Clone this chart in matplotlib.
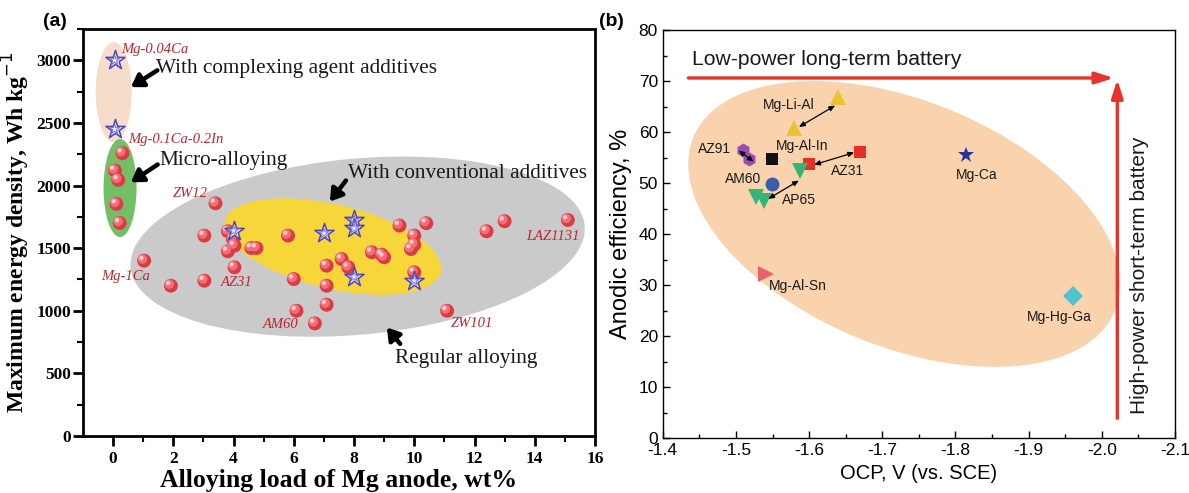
import matplotlib
matplotlib.use("Agg")
import matplotlib.pyplot as plt
from matplotlib.patches import Ellipse
from matplotlib.transforms import ScaledTranslation

plt.rcParams["axes.unicode_minus"] = False

# ---------------- (a) energy density vs alloying load ----------------
sphere_load = [0.31, 0.06, 0.17, 0.11, 0.22, 3.4, 1.03, 1.92, 3.03, 3.03, 3.81, 3.98,
               4.03, 3.81, 4.03, 4.59, 4.76, 5.81, 6.0, 6.09, 6.7, 7.09, 7.09, 7.09,
               7.59, 7.81, 9.51, 10.4, 10.0, 10.0, 9.89, 8.59, 8.92, 9.0, 10.0, 12.4,
               13.0, 15.1, 11.09]
sphere_energy = [2258, 2120, 2045, 1853, 1701, 1858, 1400, 1200, 1240, 1600, 1635, 1573,
                 1520, 1475, 1347, 1501, 1501, 1600, 1253, 1000, 899, 1360, 1200, 1048,
                 1413, 1347, 1680, 1699, 1600, 1528, 1493, 1467, 1448, 1427, 1307, 1635,
                 1715, 1725, 1000]
star_load = [0.05, 0.05, 4.0, 7.0, 8.0, 8.0, 8.0, 10.0]
star_energy = [3000, 2450, 1640, 1618, 1725, 1658, 1272, 1240]

alloy_names = ["Mg-0.04Ca", "Mg-0.1Ca-0.2In", "ZW12", "Mg-1Ca", "AZ31", "AM60", "LAZ1131", "ZW101"]
alloy_name_x = [0.26, 0.51, 1.97, -0.41, 3.59, 4.97, 13.7, 11.22]
alloy_name_y = [3088, 2366, 1936, 1272, 1226, 888, 1592, 898]

group_names = ["With complexing agent additives", "Micro-alloying",
               "With conventional additives", "Regular alloying"]

# ---------------- (b) anodic efficiency vs OCP ----------------
ocp_names = ["Mg-Li-Al", "AZ91", "Mg-Al-In", "AZ31", "AM60", "AP65", "Mg-Al-Sn", "Mg-Ca", "Mg-Hg-Ga"]
ocp_values = [[-1.639, -1.579], [-1.509, -1.518], [-1.549], [-1.670, -1.600], [-1.549],
              [-1.588, -1.527, -1.538], [-1.541], [-1.815], [-1.960]]
eff_values = [[66.9, 60.8], [56.5, 54.8], [54.8], [56.1, 53.8], [49.9],
              [52.3, 47.3, 46.4], [32.2], [55.5], [27.9]]
ocp_label_x = [-1.5367, -1.4488, -1.555, -1.6297, -1.4845, -1.5632, -1.545, -1.80, -1.8975]
ocp_label_y = [65.3, 56.7, 57.2, 52.3, 50.8, 46.6, 29.9, 51.5, 23.8]

marker_styles = ["^", "h", "s", "s", "o", "v", ">", "*", "D"]
marker_colors = ["#EBC232", "#9B4DB5", "#111111", "#E63027", "#3A5DAA", "#36B676",
                 "#E9636C", "#2A2F9A", "#4FC4D1"]
marker_sizes = [12, 10, 8, 9, 10, 12, 11, 12, 10]

TIMES = "Liberation Serif"
ARIAL = "Liberation Sans"

fig = plt.figure(figsize=(11.89, 4.93), dpi=100)
ax1 = fig.add_axes([0.0698, 0.1156, 0.4306, 0.8256])
ax2 = fig.add_axes([0.5574, 0.1110, 0.4308, 0.8281])


def pixel_ellipse(ax, x, y, a_px, b_px, angle, color, z):
    # ellipse sized in pixels, centred on a data point
    tr = fig.dpi_scale_trans + ScaledTranslation(x, y, ax.transData)
    e = Ellipse((0, 0), 2 * a_px / fig.dpi, 2 * b_px / fig.dpi, angle=angle,
                transform=tr, facecolor=color, edgecolor="none", zorder=z)
    ax.add_patch(e)


# ---- panel (a) ----
ax1.set_xlim(-1, 16)
ax1.set_ylim(0, 3250)
pixel_ellipse(ax1, 8.12, 1512, 228, 88, 5.3, "#CACACA", 0)
pixel_ellipse(ax1, 7.3, 1512, 111, 42, -13.3, "#F7D63A", 1)
pixel_ellipse(ax1, 0.02, 2746, 18, 50, 0, "#F6DDC9", 0)
pixel_ellipse(ax1, 0.23, 1980, 16.5, 49, 0, "#74BF66", 1)

# shaded spheres: base + highlight layers
ax1.scatter(sphere_load, sphere_energy, s=100, color="#DC3B45", edgecolor="none", zorder=3)
hl1 = ax1.transData + ScaledTranslation(-1.2 / 72, 1.2 / 72, fig.dpi_scale_trans)
ax1.scatter(sphere_load, sphere_energy, s=48, color="#F07078", edgecolor="none",
            zorder=4, transform=hl1)
hl2 = ax1.transData + ScaledTranslation(-2.0 / 72, 2.0 / 72, fig.dpi_scale_trans)
ax1.scatter(sphere_load, sphere_energy, s=10, color="#FBC9CC", edgecolor="none",
            zorder=5, transform=hl2)

ax1.scatter(star_load, star_energy, marker="*", s=210, facecolor="#E9E7FB",
            edgecolor="#4E45B8", linewidth=1.1, zorder=6)
ax1.scatter(star_load, star_energy, marker="*", s=55, facecolor="none",
            edgecolor="#7C74D0", linewidth=0.7, zorder=7)

for name, x, y in zip(alloy_names, alloy_name_x, alloy_name_y):
    ax1.text(x, y, name, family=TIMES, style="italic", fontsize=10.5,
             color="#C0242E", ha="left", va="center", zorder=8)

group_xy = [(1.43, 2936), (1.53, 2200), (7.8, 2096), (9.37, 616)]
arrow_tail = [(1.47, 2920), (1.48, 2168), (7.73, 2040), (9.53, 736)]
arrow_head = [(0.59, 2786), (0.59, 2026), (7.2, 1872), (9.09, 866)]
for name, (tx, ty) in zip(group_names, group_xy):
    ax1.text(tx, ty, name, family=TIMES, fontsize=15.3, color="#1a1a1a",
             ha="left", va="center", zorder=8)
for t, h in zip(arrow_tail, arrow_head):
    ax1.annotate("", xy=h, xytext=t,
                 arrowprops=dict(arrowstyle="-|>,head_width=0.45,head_length=0.7",
                                 color="black", lw=3.2, shrinkA=0, shrinkB=0), zorder=8)

ax1.set_xticks(range(0, 17, 2))
ax1.set_xticks(range(1, 16, 2), minor=True)
ax1.set_yticks(range(0, 3001, 500))
ax1.set_yticks(range(250, 3251, 500), minor=True)
ax1.tick_params(which="major", direction="out", length=7, width=2)
ax1.tick_params(which="minor", direction="out", length=4, width=1.5)
ax1.tick_params(axis="y", which="major", pad=1.5)
ax1.tick_params(axis="x", which="major", pad=4)
for lab in ax1.get_xticklabels() + ax1.get_yticklabels():
    lab.set_fontfamily(TIMES)
    lab.set_fontweight("bold")
    lab.set_fontsize(12.5)
for sp in ax1.spines.values():
    sp.set_linewidth(2)
ax1.set_xlabel("Alloying load of Mg anode, wt%", family=TIMES, fontweight="bold",
               fontsize=18.5, labelpad=1)
ax1.set_ylabel("Maximum energy density, Wh kg$^{-1}$", family=TIMES, fontweight="bold",
               fontsize=17, labelpad=3)
fig.text(0.046, 0.957, "(a)", family=ARIAL, fontweight="bold", fontsize=14,
         ha="center", va="center")

# ---- panel (b) ----
ax2.set_xlim(-1.4, -2.1)
ax2.set_ylim(0, 80)
pixel_ellipse(ax2, -1.730, 42.0, 228, 123, -22.3, "#F9D3AE", 0)

for xs, ys, m, c, ms in zip(ocp_values, eff_values, marker_styles, marker_colors, marker_sizes):
    ax2.plot(xs, ys, linestyle="none", marker=m, color=c, markersize=ms,
             markeredgewidth=0, zorder=4)

for name, x, y in zip(ocp_names, ocp_label_x, ocp_label_y):
    ax2.text(x, y, name, family=ARIAL, fontsize=10, ha="left", va="center",
             color="#1a1a1a", zorder=6)

pair_a = [(-1.6356, 65.2), (-1.5037, 56.4), (-1.6617, 56.0), (-1.5861, 50.5)]
pair_b = [(-1.5861, 61.0), (-1.5243, 54.2), (-1.6067, 53.6), (-1.5440, 46.9)]
for a, b in zip(pair_a, pair_b):
    ax2.annotate("", xy=b, xytext=a,
                 arrowprops=dict(arrowstyle="<|-|>,head_width=0.15,head_length=0.35",
                                 color="black", lw=0.9, shrinkA=0, shrinkB=0), zorder=5)

ax2.annotate("", xy=(-2.0165, 70.6), xytext=(-1.435, 70.6),
             arrowprops=dict(arrowstyle="-|>,head_width=0.35,head_length=1.1",
                             color="#E8322A", lw=2.4, shrinkA=0, shrinkB=0))
ax2.annotate("", xy=(-2.0212, 70.3), xytext=(-2.0212, 3.9),
             arrowprops=dict(arrowstyle="-|>,head_width=0.35,head_length=1.1",
                             color="#E8322A", lw=2.4, shrinkA=0, shrinkB=0))
ax2.text(-1.4396, 74.3, "Low-power long-term battery", family=ARIAL, fontsize=15.2,
         ha="left", va="center", color="#1a1a1a")
ax2.text(-2.0509, 32.0, "High-power short-term battery", family=ARIAL, fontsize=15,
         rotation=90, ha="center", va="center", color="#1a1a1a")

ax2.set_xticks([-1.4, -1.5, -1.6, -1.7, -1.8, -1.9, -2.0, -2.1])
ax2.set_xticks([-1.45, -1.55, -1.65, -1.75, -1.85, -1.95, -2.05], minor=True)
ax2.set_yticks(range(0, 81, 10))
ax2.set_yticks(range(5, 80, 10), minor=True)
ax2.tick_params(which="major", direction="in", length=5, width=1)
ax2.tick_params(which="minor", direction="in", length=3, width=1)
for lab in ax2.get_xticklabels() + ax2.get_yticklabels():
    lab.set_fontfamily(ARIAL)
    lab.set_fontsize(12.5)
for sp in ax2.spines.values():
    sp.set_linewidth(1)
ax2.set_xlabel("OCP, V (vs. SCE)", family=ARIAL, fontsize=14.5, labelpad=4)
ax2.set_ylabel("Anodic efficiency, %", family=ARIAL, fontsize=17, labelpad=5)
fig.text(0.514, 0.957, "(b)", family=ARIAL, fontweight="bold", fontsize=14,
         ha="center", va="center")

fig.savefig("out.png", dpi=100)
